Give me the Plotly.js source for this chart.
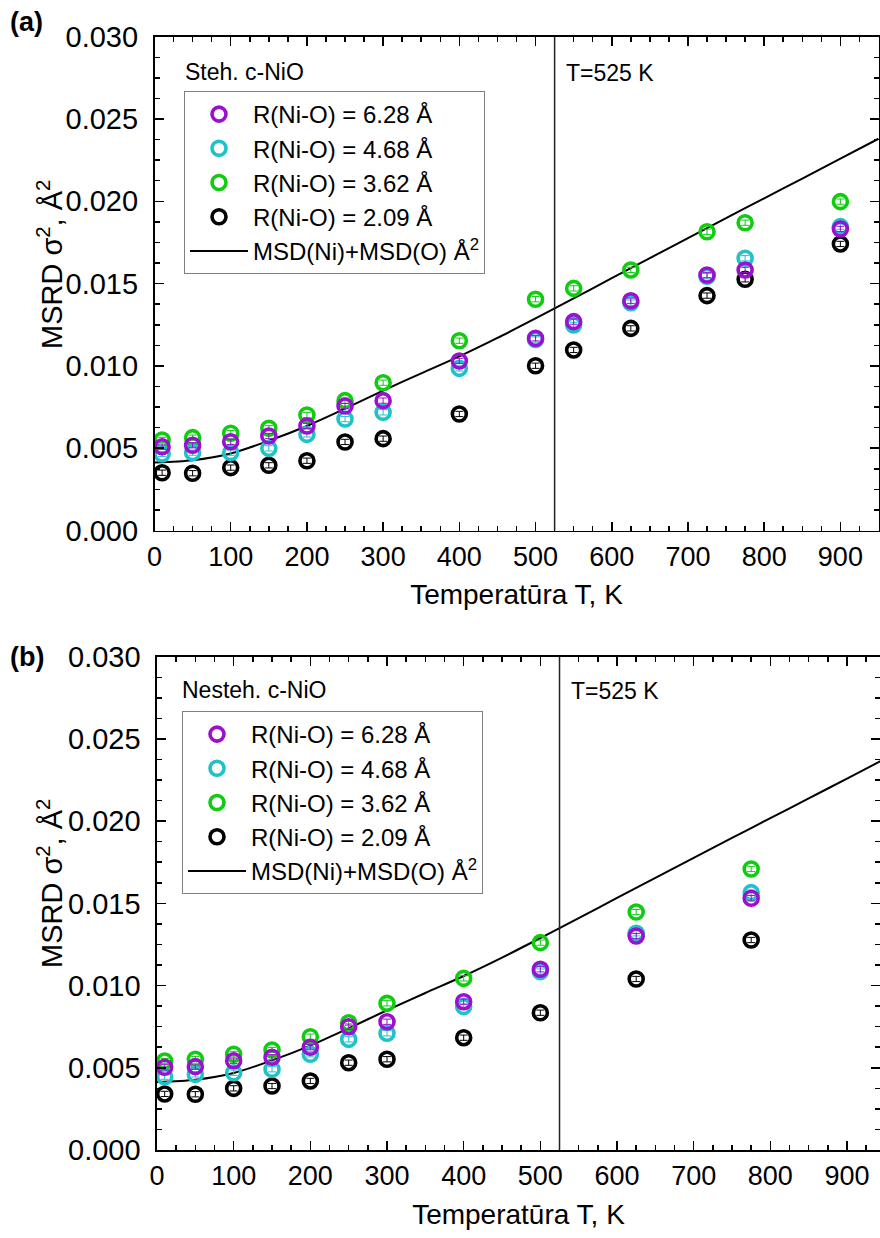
<!DOCTYPE html>
<html>
<head>
<meta charset="utf-8">
<script src="https://cdn.plot.ly/plotly-3.0.1.min.js"></script>
<style>html,body{margin:0;padding:0;overflow:hidden;background:#fff;}</style>
</head>
<body>
<div id="chart" style="width:880px;height:1238px;"></div>
<script>
// ---------- data ----------
const seriesNames = ['R(Ni-O) = 6.28 Å', 'R(Ni-O) = 4.68 Å', 'R(Ni-O) = 3.62 Å', 'R(Ni-O) = 2.09 Å'];
const lineName = 'MSD(Ni)+MSD(O) Å<sup>2</sup>';

// panel (a): Steh. c-NiO
const T_a = [10, 50, 100, 150, 200, 250, 300, 400, 500, 550, 625, 725, 775, 900];
const r628_a = [0.00509, 0.00518, 0.00539, 0.00574, 0.00635, 0.00756, 0.00789, 0.01030, 0.01168, 0.01269, 0.01396, 0.01552, 0.01583, 0.01832];
const r468_a = [0.00465, 0.00473, 0.00473, 0.00499, 0.00584, 0.00677, 0.00718, 0.00985, 0.01160, 0.01249, 0.01384, 0.01545, 0.01654, 0.01846];
const r362_a = [0.00550, 0.00564, 0.00591, 0.00621, 0.00702, 0.00789, 0.00898, 0.01153, 0.01405, 0.01471, 0.01583, 0.01815, 0.01870, 0.01998];
const r209_a = [0.00351, 0.00348, 0.00382, 0.00396, 0.00424, 0.00538, 0.00558, 0.00708, 0.01001, 0.01097, 0.01228, 0.01427, 0.01526, 0.01741];

// panel (b): Nesteh. c-NiO
const T_b = [10, 50, 100, 150, 200, 250, 300, 400, 500, 625, 775];
const r628_b = [0.00503, 0.00507, 0.00543, 0.00564, 0.00625, 0.00750, 0.00780, 0.00902, 0.01099, 0.01301, 0.01531];
const r468_b = [0.00446, 0.00460, 0.00470, 0.00491, 0.00582, 0.00673, 0.00710, 0.00872, 0.01085, 0.01318, 0.01565];
const r362_b = [0.00541, 0.00552, 0.00582, 0.00608, 0.00689, 0.00774, 0.00892, 0.01044, 0.01261, 0.01447, 0.01709];
const r209_b = [0.00341, 0.00339, 0.00375, 0.00389, 0.00420, 0.00531, 0.00552, 0.00683, 0.00835, 0.01040, 0.01277];

// MSD(Ni)+MSD(O) curve (same in both panels)
const T_msd = [0, 50, 100, 150, 200, 250, 300, 350, 400, 450, 500, 550, 600, 650, 700, 750, 800, 850, 900, 950];
const msd = [0.00413, 0.00427, 0.00468, 0.00545, 0.00635, 0.00740, 0.00850, 0.00955, 0.01058, 0.01170, 0.01289, 0.01410, 0.01533, 0.01655, 0.01777, 0.01898, 0.02018, 0.02138, 0.02259, 0.02380];

const T_mark = 525;
const yTickVals = [0, 0.005, 0.010, 0.015, 0.020, 0.025, 0.030];
const yTickText = ['0.000', '0.005', '0.010', '0.015', '0.020', '0.025', '0.030'];
const xTitle = 'Temperatūra T, K';
const yTitle = 'MSRD σ<sup>2</sup>, Å<sup>2</sup>';

// ---------- styling ----------
const FONT = 'Liberation Sans, Arial, sans-serif';
const colors = ['#9a0fd0', '#1fc2c9', '#10cc10', '#000000'];
const ranks = [1, 2, 3, 4];

function markerTrace(x, y, i, xa, ya, leg) {
  return {
    x: x, y: y, type: 'scatter', mode: 'markers', name: seriesNames[i],
    xaxis: xa, yaxis: ya, legend: leg, legendrank: ranks[i],
    marker: {symbol: 'circle-open', size: 14, color: colors[i], line: {width: 3.6, color: colors[i]}},
    error_y: {type: 'constant', value: 0.00016, thickness: 1, width: 4, color: colors[i]},
    cliponaxis: false
  };
}
function lineTrace(xa, ya, leg) {
  return {
    x: T_msd, y: msd, type: 'scatter', mode: 'lines', name: lineName,
    xaxis: xa, yaxis: ya, legend: leg, legendrank: 5,
    line: {color: '#000', width: 2, shape: 'spline', smoothing: 0.8}
  };
}

const data = [
  lineTrace('x', 'y', 'legend'),
  markerTrace(T_a, r209_a, 3, 'x', 'y', 'legend'),
  markerTrace(T_a, r362_a, 2, 'x', 'y', 'legend'),
  markerTrace(T_a, r468_a, 1, 'x', 'y', 'legend'),
  markerTrace(T_a, r628_a, 0, 'x', 'y', 'legend'),
  lineTrace('x2', 'y2', 'legend2'),
  markerTrace(T_b, r209_b, 3, 'x2', 'y2', 'legend2'),
  markerTrace(T_b, r362_b, 2, 'x2', 'y2', 'legend2'),
  markerTrace(T_b, r468_b, 1, 'x2', 'y2', 'legend2'),
  markerTrace(T_b, r628_b, 0, 'x2', 'y2', 'legend2')
];

const W = 880, H = 1238;
function xAxis(anchor, domain, range) {
  return {
    anchor: anchor, domain: domain, range: range,
    tick0: 0, dtick: 100, ticks: 'inside', ticklen: 9, tickwidth: 1.5, tickcolor: '#000',
    minor: {dtick: 25, ticks: 'inside', ticklen: 5, tickwidth: 1.5, tickcolor: '#000', showgrid: false},
    showline: true, linewidth: 1.6, linecolor: '#000', mirror: 'allticks',
    showgrid: false, zeroline: false, ticklabelstandoff: 1,
    tickfont: {family: FONT, size: 27, color: '#000'},
    title: {text: xTitle, font: {family: FONT, size: 28, color: '#000'}, standoff: 14}
  };
}
function yAxis(anchor, domain) {
  return {
    anchor: anchor, domain: domain, range: [0, 0.030],
    tickvals: yTickVals, ticktext: yTickText, ticks: 'inside', ticklen: 9, tickwidth: 1.5, tickcolor: '#000',
    minor: {dtick: 0.00125, ticks: 'inside', ticklen: 5, tickwidth: 1.5, tickcolor: '#000', showgrid: false},
    showline: true, linewidth: 1.6, linecolor: '#000', mirror: 'allticks',
    showgrid: false, zeroline: false, ticklabelstandoff: 9,
    tickfont: {family: FONT, size: 29, color: '#000'}
  };
}

const legendBase = {
  xanchor: 'left', yanchor: 'top', xref: 'paper', yref: 'paper',
  bgcolor: '#fff', bordercolor: '#808080', borderwidth: 1,
  font: {family: FONT, size: 24, color: '#000'}, itemwidth: 58, tracegroupgap: 0
};

const layout = {
  width: W, height: H,
  margin: {l: 0, r: 0, t: 0, b: 0},
  paper_bgcolor: '#fff', plot_bgcolor: '#fff',
  font: {family: FONT, color: '#000'},
  showlegend: true,
  xaxis: xAxis('y', [154.5 / W, 878.5 / W], [0, 950]),
  yaxis: yAxis('x', [1 - 530.5 / H, 1 - 36.7 / H]),
  xaxis2: xAxis('y2', [157 / W, 1.0], [0, 943]),
  yaxis2: yAxis('x2', [1 - 1150 / H, 1 - 656.7 / H]),
  legend: Object.assign({}, legendBase, {x: 184 / W, y: 1 - 91 / H}),
  legend2: Object.assign({}, legendBase, {x: 182 / W, y: 1 - 711 / H}),
  shapes: [
    {type: 'line', xref: 'x', yref: 'y domain', x0: T_mark, x1: T_mark, y0: 0, y1: 1, line: {color: '#222', width: 1.5}},
    {type: 'line', xref: 'x2', yref: 'y2 domain', x0: T_mark, x1: T_mark, y0: 0, y1: 1, line: {color: '#222', width: 1.5}}
  ],
  annotations: [
    {text: yTitle, xref: 'paper', yref: 'paper', x: 50 / W, y: 1 - 265 / H, xanchor: 'center', yanchor: 'middle', textangle: -90, showarrow: false, font: {family: FONT, size: 29, color: '#000'}},
    {text: yTitle, xref: 'paper', yref: 'paper', x: 50 / W, y: 1 - 884 / H, xanchor: 'center', yanchor: 'middle', textangle: -90, showarrow: false, font: {family: FONT, size: 29, color: '#000'}},
    {text: '<b>(a)</b>', xref: 'paper', yref: 'paper', x: 8 / W, y: 1 - 22 / H, xanchor: 'left', yanchor: 'middle', showarrow: false, font: {family: FONT, size: 27, color: '#000'}},
    {text: '<b>(b)</b>', xref: 'paper', yref: 'paper', x: 8 / W, y: 1 - 657 / H, xanchor: 'left', yanchor: 'middle', showarrow: false, font: {family: FONT, size: 27, color: '#000'}},
    {text: 'Steh. c-NiO', xref: 'paper', yref: 'paper', x: 183 / W, y: 1 - 72 / H, xanchor: 'left', yanchor: 'middle', showarrow: false, font: {family: FONT, size: 23, color: '#000'}},
    {text: 'Nesteh. c-NiO', xref: 'paper', yref: 'paper', x: 180 / W, y: 1 - 690 / H, xanchor: 'left', yanchor: 'middle', showarrow: false, font: {family: FONT, size: 23, color: '#000'}},
    {text: 'T=525 K', xref: 'paper', yref: 'paper', x: 564 / W, y: 1 - 73 / H, xanchor: 'left', yanchor: 'middle', showarrow: false, font: {family: FONT, size: 23, color: '#000'}},
    {text: 'T=525 K', xref: 'paper', yref: 'paper', x: 569 / W, y: 1 - 691 / H, xanchor: 'left', yanchor: 'middle', showarrow: false, font: {family: FONT, size: 23, color: '#000'}}
  ]
};

Plotly.newPlot('chart', data, layout, {displayModeBar: false, staticPlot: true});
</script>
</body>
</html>
